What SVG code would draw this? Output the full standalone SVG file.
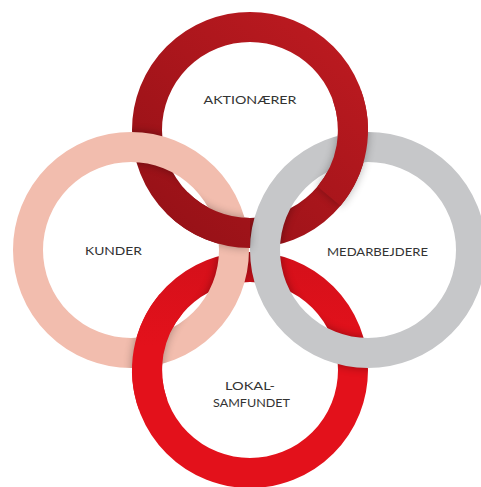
<svg xmlns="http://www.w3.org/2000/svg" width="481" height="487" viewBox="0 0 481 487">
<style>
.ring{fill:none;stroke-width:30}
.shadow{fill:none;stroke:#000;stroke-width:30}
.lbl{font-family:"Lato","Open Sans","Liberation Sans",sans-serif;font-size:11.5px;fill:#333;text-anchor:middle}
</style>
<defs>
<linearGradient id="gTop" gradientUnits="userSpaceOnUse" x1="340" y1="30" x2="160" y2="230">
<stop offset="0" stop-color="#BC1A20"/>
<stop offset="1" stop-color="#961117"/>
</linearGradient>
<linearGradient id="gBot" gradientUnits="userSpaceOnUse" x1="250" y1="252" x2="250" y2="487">
<stop offset="0" stop-color="#D4101A"/>
<stop offset="0.4" stop-color="#E3111B"/>
<stop offset="1" stop-color="#E3111B"/>
</linearGradient>
<filter id="blur" x="-30%" y="-30%" width="160%" height="160%"><feGaussianBlur stdDeviation="5"/></filter>
<clipPath id="cRed">
<path clip-rule="evenodd" d="M132,130a118,118 0 1,0 236,0a118,118 0 1,0 -236,0ZM162,130a88,88 0 1,0 176,0a88,88 0 1,0 -176,0Z"/>
<path clip-rule="evenodd" d="M132,370a118,118 0 1,0 236,0a118,118 0 1,0 -236,0ZM162,370a88,88 0 1,0 176,0a88,88 0 1,0 -176,0Z"/>
</clipPath>
<clipPath id="cLight">
<path clip-rule="evenodd" d="M13,250a118,118 0 1,0 236,0a118,118 0 1,0 -236,0ZM43,250a88,88 0 1,0 176,0a88,88 0 1,0 -176,0Z"/>
<path clip-rule="evenodd" d="M250,250a118,118 0 1,0 236,0a118,118 0 1,0 -236,0ZM280,250a88,88 0 1,0 176,0a88,88 0 1,0 -176,0Z"/>
</clipPath>
</defs>
<rect width="481" height="487" fill="#fff"/>

<g id="ring-aktionaerer"><circle class="ring" cx="250" cy="130" r="103" stroke="url(#gTop)"/></g>
<g id="ring-lokalsamfundet"><circle class="ring" cx="250" cy="370" r="103" stroke="url(#gBot)"/></g>

<g clip-path="url(#cRed)"><g filter="url(#blur)" opacity="0.35">
<circle class="shadow" cx="131" cy="250" r="103"/>
<circle class="shadow" cx="368" cy="250" r="103"/>
</g></g>

<g id="ring-kunder"><circle class="ring" cx="131" cy="250" r="103" stroke="#F2BDAE"/></g>
<g id="ring-medarbejdere"><circle class="ring" cx="368" cy="250" r="103" stroke="#C6C7C9"/></g>

<g clip-path="url(#cLight)"><g filter="url(#blur)" opacity="0.3">
<path class="shadow" d="M250,233A103,103 0 0,1 177.17,202.83"/>
<path class="shadow" d="M346.79,94.77A103,103 0 0,1 328.9,196.21"/>
<path class="shadow" d="M153.21,405.23A103,103 0 0,1 171.1,303.79"/>
</g></g>

<g id="overlaps">
<path class="ring" stroke="url(#gTop)" d="M250,233A103,103 0 0,1 177.17,202.83"/>
<path class="ring" stroke="url(#gTop)" d="M346.79,94.77A103,103 0 0,1 328.9,196.21"/>
<path class="ring" stroke="url(#gBot)" d="M153.21,405.23A103,103 0 0,1 171.1,303.79"/>
</g>

<g id="labels">
<text class="lbl" x="250" y="104" textLength="93" lengthAdjust="spacingAndGlyphs">AKTIONÆRER</text>
<text class="lbl" x="113.5" y="255" textLength="57" lengthAdjust="spacingAndGlyphs">KUNDER</text>
<text class="lbl" x="377.5" y="256" textLength="101" lengthAdjust="spacingAndGlyphs">MEDARBEJDERE</text>
<text class="lbl" x="250" y="390" textLength="50" lengthAdjust="spacingAndGlyphs">LOKAL-</text>
<text class="lbl" x="251.5" y="407" textLength="77" lengthAdjust="spacingAndGlyphs">SAMFUNDET</text>
</g>
</svg>
